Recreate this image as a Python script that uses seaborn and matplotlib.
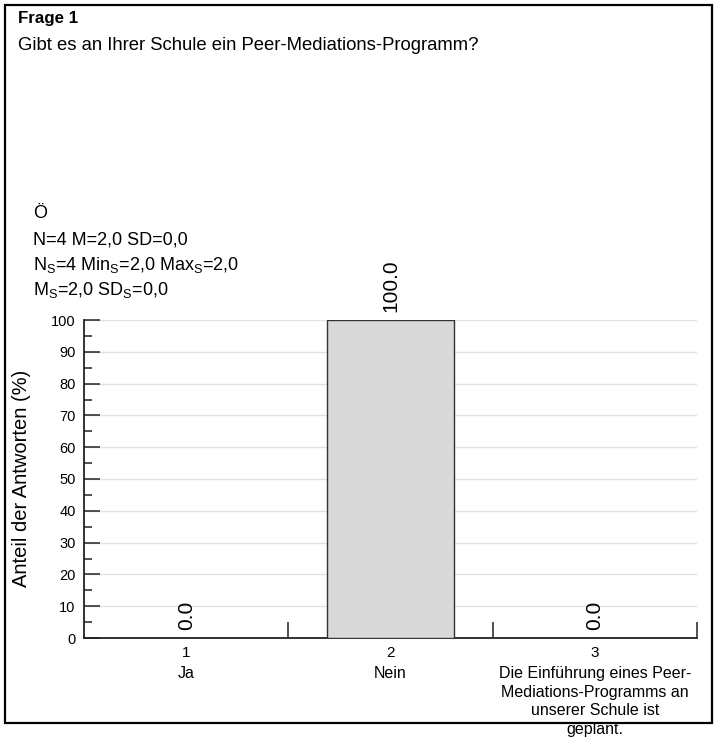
import matplotlib
matplotlib.use("Agg")
import pandas as pd
import seaborn as sns
import matplotlib.pyplot as plt
from matplotlib.patches import Rectangle
from matplotlib.ticker import MultipleLocator, FixedLocator

# chart data
codes = ["1", "2", "3"]
answers = ["Ja", "Nein",
           "Die Einführung eines Peer-\nMediations-Programms an\nunserer Schule ist\ngeplant."]
shares = [0.0, 100.0, 0.0]

title = "Frage 1"
question = "Gibt es an Ihrer Schule ein Peer-Mediations-Programm?"
group = "Ö"
stats_lines = [
    "N=4 M=2,0 SD=0,0",
    r"N$_\mathregular{S}$=4 Min$_\mathregular{S}$=2,0 Max$_\mathregular{S}$=2,0",
    r"M$_\mathregular{S}$=2,0 SD$_\mathregular{S}$=0,0",
]
ylabel = "Anteil der Antworten (%)"

sns.set_style("white")
plt.rcParams["font.family"] = ["Liberation Sans", "DejaVu Sans"]
plt.rcParams["mathtext.fontset"] = "custom"
plt.rcParams["mathtext.rm"] = "Liberation Sans"
for key in ["text.color", "axes.labelcolor", "xtick.color", "ytick.color"]:
    plt.rcParams[key] = "black"

df = pd.DataFrame({"code": codes, "share": shares})

fig = plt.figure(figsize=(7.17, 7.38), dpi=100)
ax = fig.add_axes([84 / 717, 1 - 638 / 738, 613 / 717, 318 / 738])

sns.barplot(data=df, x="code", y="share", order=codes, color="#d9d9d9",
            saturation=1, width=0.625, edgecolor="#333333", linewidth=1, ax=ax, zorder=3)

ax.set_xlim(-0.5, 2.5)
ax.set_ylim(0, 100)
ax.yaxis.set_major_locator(MultipleLocator(10))
ax.yaxis.set_minor_locator(MultipleLocator(5))
ax.grid(axis="y", which="major", color="#e2e2e2", linewidth=1, zorder=0)
ax.set_axisbelow(True)

ax.set_xticks(range(len(codes)))
ax.set_xticklabels(codes, fontsize=11)
ax.xaxis.set_minor_locator(FixedLocator([0.5, 1.5, 2.5]))
ax.tick_params(axis="x", which="major", bottom=True, length=0, pad=6)
ax.tick_params(axis="x", which="minor", bottom=True, length=11.5, width=1.1, direction="in", color="#222222")
ax.tick_params(axis="y", which="major", left=True, length=11.5, width=1.1, direction="in",
               labelsize=10.5, pad=6, color="#222222")
ax.tick_params(axis="y", which="minor", left=True, length=5.5, width=1.1, direction="in", color="#222222")
ax.set_xlabel("")
ax.set_ylabel("")

for i, a in enumerate(answers):
    ax.annotate(a, (i, 0), xycoords=("data", "axes fraction"), xytext=(0, -20),
                textcoords="offset points", ha="center", va="top", fontsize=11.5,
                linespacing=1.32, annotation_clip=False)

for s in ["top", "right"]:
    ax.spines[s].set_visible(False)
for s in ["left", "bottom"]:
    ax.spines[s].set_color("#222222")
    ax.spines[s].set_linewidth(1.3)

for i, v in enumerate(shares):
    ax.annotate(f"{v:.1f}", (i, v), xytext=(0, 6), textcoords="offset points",
                rotation=90, ha="center", va="bottom", fontsize=15)

fig.text(18 / 717, 1 - 18 / 738, title, fontsize=12.2, fontweight="bold", va="center")
fig.text(18 / 717, 1 - 46 / 738, question, fontsize=13.3, va="center")
fig.text(33 / 717, 1 - 213 / 738, group, fontsize=13, va="center")
for k, line in enumerate(stats_lines):
    fig.text(33 / 717, 1 - (240 + 25 * k) / 738, line, fontsize=13, va="center")
fig.text(22 / 717, 1 - 478 / 738, ylabel, fontsize=14.5, rotation=90, ha="center", va="center")

fig.add_artist(Rectangle((5 / 717, 1 - 723 / 738), 707 / 717, 718 / 738,
                         transform=fig.transFigure, fill=False, edgecolor="black",
                         linewidth=1.6, zorder=10))

fig.savefig("out.png", dpi=100)
